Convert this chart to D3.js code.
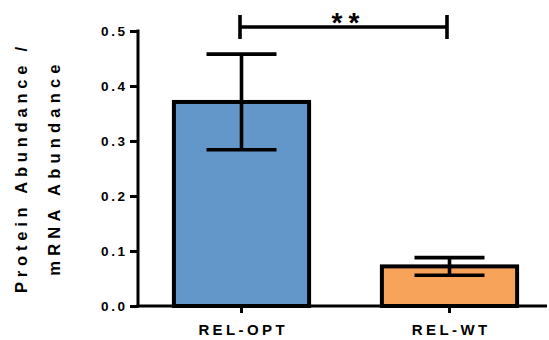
<!DOCTYPE html>
<html>
<head>
<meta charset="utf-8">
<script src="https://cdn.jsdelivr.net/npm/d3@7"></script>
<style>
  html, body { margin: 0; padding: 0; background: #fff; }
  svg { display: block; font-family: "Liberation Sans", Arial, sans-serif; font-weight: bold; }
</style>
</head>
<body>
<svg id="chart" width="549" height="340"></svg>
<script>
// Protein/mRNA abundance ratio for the two constructs (mean ± error)
const categories = ["REL-OPT", "REL-WT"];
const means = [0.371, 0.072];
const errors = [0.087, 0.016];
const barColors = ["#6397CA", "#F8A35A"];
const yTicks = [0.0, 0.1, 0.2, 0.3, 0.4, 0.5];
const significance = "**";

const svg = d3.select("#chart");

const y = d3.scaleLinear().domain([0, 0.5]).range([306, 31]);
const x = d3.scaleBand().domain(categories).range([137.5, 553.5])
  .paddingInner(0.35).paddingOuter(0.175);

const axisX0 = 138, axisX1 = 547;
const lw = 3;
const markLw = 3.6;
const font = "Liberation Sans, Arial, sans-serif";

// bars
svg.append("g").selectAll("rect")
  .data(categories)
  .join("rect")
  .attr("x", d => x(d))
  .attr("width", x.bandwidth())
  .attr("y", (d, i) => y(means[i]))
  .attr("height", (d, i) => y(0) - y(means[i]))
  .attr("fill", (d, i) => barColors[i])
  .attr("stroke", "#000")
  .attr("stroke-width", 4);

// error bars
const capHalf = 35;
const eb = svg.append("g").attr("stroke", "#000").attr("stroke-width", markLw);
categories.forEach((c, i) => {
  const cx = x(c) + x.bandwidth() / 2;
  const hi = y(means[i] + errors[i]);
  const lo = y(means[i] - errors[i]);
  eb.append("line").attr("x1", cx).attr("x2", cx).attr("y1", hi).attr("y2", lo);
  eb.append("line").attr("x1", cx - capHalf).attr("x2", cx + capHalf).attr("y1", hi).attr("y2", hi);
  eb.append("line").attr("x1", cx - capHalf).attr("x2", cx + capHalf).attr("y1", lo).attr("y2", lo);
});

// y axis
const yAxis = svg.append("g")
  .attr("transform", `translate(${axisX0},0)`)
  .call(d3.axisLeft(y).tickValues(yTicks).tickFormat(d3.format(".1f")).tickSize(8).tickSizeOuter(0).tickPadding(5));
yAxis.select(".domain").attr("stroke-width", lw).attr("d", `M0,${y(0) + 1.5}V${y(0.5) - 1.5}`);
yAxis.selectAll(".tick line").attr("stroke-width", lw);
yAxis.selectAll(".tick text")
  .attr("font-size", 13.5)
  .attr("font-weight", "bold")
  .attr("font-family", font)
  .attr("fill", "#000")
  .style("letter-spacing", "2.6px")
  .attr("dx", 2.6);

// x axis
const xAxis = svg.append("g")
  .attr("transform", `translate(0,${y(0)})`)
  .call(d3.axisBottom(x).tickSize(7).tickSizeOuter(0).tickPadding(11));
xAxis.select(".domain").attr("stroke-width", lw).attr("d", `M${axisX0 - 1.5},0H${axisX1}`);
xAxis.selectAll(".tick line").attr("stroke-width", lw);
xAxis.selectAll(".tick text")
  .attr("font-size", 15)
  .attr("font-weight", "bold")
  .attr("font-family", font)
  .attr("fill", "#000")
  .style("letter-spacing", "3.4px")
  .attr("dx", 1.7);

// significance bracket
const bx0 = x(categories[0]) + x.bandwidth() / 2 - 1.5;
const bx1 = x(categories[1]) + x.bandwidth() / 2 - 2.5;
const by = 27;
const br = svg.append("g").attr("stroke", "#000").attr("stroke-width", markLw);
br.append("line").attr("x1", bx0).attr("x2", bx1).attr("y1", by).attr("y2", by);
br.append("line").attr("x1", bx0).attr("x2", bx0).attr("y1", by - 12).attr("y2", by + 12);
br.append("line").attr("x1", bx1).attr("x2", bx1).attr("y1", by - 12).attr("y2", by + 12);
svg.append("text")
  .attr("x", (bx0 + bx1) / 2 + 5)
  .attr("y", 32)
  .attr("text-anchor", "middle")
  .attr("font-size", 28)
  .style("letter-spacing", "6px")
  .text(significance);

// y axis title (two lines)
const title = svg.append("g").attr("transform", "translate(0,170) rotate(-90)");
title.append("text").attr("x", 2.5).attr("y", 27)
  .attr("text-anchor", "middle").attr("font-size", 16.5)
  .style("letter-spacing", "4.8px")
  .text("Protein Abundance /");
title.append("text").attr("x", 2.5).attr("y", 60)
  .attr("text-anchor", "middle").attr("font-size", 16.5)
  .style("letter-spacing", "5.2px")
  .text("mRNA Abundance");
</script>
</body>
</html>
